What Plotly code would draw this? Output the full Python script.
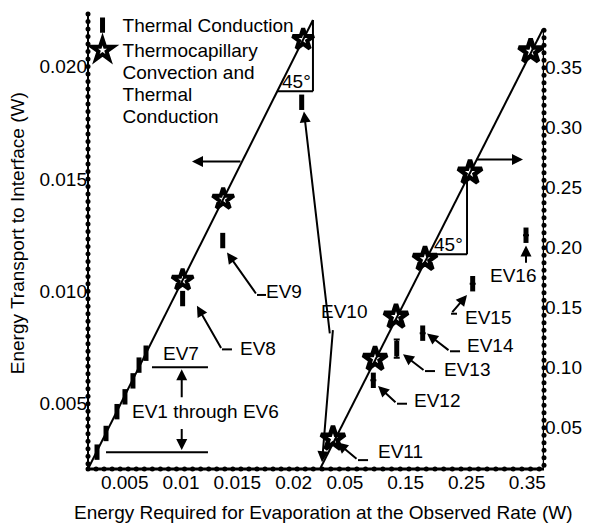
import numpy as np
import plotly.graph_objects as go

FONT = "Liberation Sans, Arial, Helvetica, sans-serif"

# ---- Left panel: EV1-EV10 (small evaporation rates) ----
tc_left_x = [0.0029, 0.0037, 0.00467, 0.00538, 0.00609, 0.00663, 0.00725, 0.0105, 0.01406, 0.02107]
tc_left_y = [0.00285, 0.00368, 0.00465, 0.00531, 0.00602, 0.00672, 0.00725, 0.00968, 0.01226, 0.01841]
tcc_left_x = [0.0105, 0.0141, 0.0212]
tcc_left_y = [0.0105, 0.0141, 0.0212]
eq_left = [0.0021, 0.02207]

# ---- Right panel: EV11-EV16 ----
tc_right_x = [0.1034, 0.1419, 0.1846, 0.2668, 0.3545]
tc_right_y = [0.0896, 0.116, 0.1289, 0.1701, 0.2105]
tc_right_err = [0.0, 0.0076, 0.0, 0.0, 0.0]
tcc_right_x = [0.037, 0.1062, 0.1407, 0.1884, 0.2624, 0.3622]
tcc_right_y = [0.041, 0.1074, 0.1426, 0.1907, 0.2627, 0.3638]
eq_right = [0.0157, 0.382]

# ---- Axis ticks ----
left_x_ticks = [0.005, 0.01, 0.015, 0.02]
left_x_labels = ["0.005", "0.01", "0.015", "0.02"]
left_y_ticks = [0.005, 0.010, 0.015, 0.020]
left_y_labels = ["0.005", "0.010", "0.015", "0.020"]
right_x_ticks = [0.05, 0.15, 0.25, 0.35]
right_x_labels = ["0.05", "0.15", "0.25", "0.35"]
right_y_ticks = [0.05, 0.10, 0.15, 0.20, 0.25, 0.30, 0.35]
right_y_labels = ["0.05", "0.10", "0.15", "0.20", "0.25", "0.30", "0.35"]

LX = [0.0021, 0.02234]
LY = [0.0021, 0.02238]
RX = [0.0091, 0.3841]
RY = [0.0157, 0.3957]

fig = go.Figure()

# 45 degree reference lines
fig.add_trace(go.Scatter(x=eq_left, y=eq_left, mode="lines", line=dict(color="black", width=2),
                         showlegend=False, hoverinfo="skip", xaxis="x", yaxis="y"))
fig.add_trace(go.Scatter(x=eq_right, y=eq_right, mode="lines", line=dict(color="black", width=2),
                         showlegend=False, hoverinfo="skip", xaxis="x2", yaxis="y2"))

# dotted axes (minor tick dots)
dot = dict(color="black", size=5, symbol="circle")
ly_dots = [v for v in np.arange(0, LY[1], 0.005 / 15) if v >= LY[0]]
lx_dots = [v for v in np.arange(LX[0], LX[1], 0.005 / 7)]
ry_dots = [v for v in np.arange(0, 0.383, 0.05 / 8) if v >= RY[0]]
rx_dots = [v for v in np.arange(RX[0] + 0.01, RX[1], 0.1 / 7)]
fig.add_trace(go.Scatter(x=[LX[0]] * len(ly_dots), y=ly_dots, mode="markers", marker=dot,
                         cliponaxis=False, showlegend=False, hoverinfo="skip", xaxis="x", yaxis="y"))
fig.add_trace(go.Scatter(x=lx_dots, y=[LY[0]] * len(lx_dots), mode="markers", marker=dot,
                         cliponaxis=False, showlegend=False, hoverinfo="skip", xaxis="x", yaxis="y"))
fig.add_trace(go.Scatter(x=[RX[1]] * len(ry_dots), y=ry_dots, mode="markers", marker=dot,
                         cliponaxis=False, showlegend=False, hoverinfo="skip", xaxis="x2", yaxis="y2"))
fig.add_trace(go.Scatter(x=rx_dots, y=[RY[0]] * len(rx_dots), mode="markers", marker=dot,
                         cliponaxis=False, showlegend=False, hoverinfo="skip", xaxis="x2", yaxis="y2"))

bar_marker = dict(symbol="line-ns", size=11, color="black", line=dict(color="black", width=5))
star_marker = dict(symbol="star-open", size=16, color="black", line=dict(color="black", width=4))

def line_name(*lines):
    return "<br>".join('<span style="font-size:19px">%s</span>' % s for s in lines)

fig.add_trace(go.Scatter(x=tc_left_x, y=tc_left_y, mode="markers", marker=bar_marker,
                         name=line_name("Thermal Conduction"), legendgroup="tc",
                         cliponaxis=False, xaxis="x", yaxis="y"))
fig.add_trace(go.Scatter(x=tcc_left_x, y=tcc_left_y, mode="markers", marker=star_marker,
                         name=line_name("Thermocapillary", "Convection and", "Thermal", "Conduction"),
                         legendgroup="tcc", cliponaxis=False, xaxis="x", yaxis="y"))
fig.add_trace(go.Scatter(x=tc_right_x, y=tc_right_y, mode="markers", marker=bar_marker,
                         error_y=dict(type="data", array=tc_right_err, color="black", width=3, thickness=2),
                         showlegend=False, legendgroup="tc", cliponaxis=False, xaxis="x2", yaxis="y2"))
fig.add_trace(go.Scatter(x=tcc_right_x, y=tcc_right_y, mode="markers",
                         marker=dict(symbol="star-open", size=18, color="black",
                                     line=dict(color="black", width=4.5)),
                         showlegend=False, legendgroup="tcc", cliponaxis=False, xaxis="x2", yaxis="y2"))

shapes = []

def seg(ax, x0, y0, x1, y1, w=2):
    xr, yr = ("x", "y") if ax == "L" else ("x2", "y2")
    shapes.append(dict(type="line", xref=xr, yref=yr, x0=x0, y0=y0, x1=x1, y1=y1,
                       line=dict(color="black", width=w)))

def arrow(ax, x, y, tx, ty):
    xr, yr = ("x", "y") if ax == "L" else ("x2", "y2")
    fig.add_annotation(x=x, y=y, ax=tx, ay=ty, xref=xr, yref=yr, axref=xr, ayref=yr, text="",
                       showarrow=True, arrowhead=2, arrowsize=1.1, arrowwidth=2,
                       arrowcolor="black", standoff=0)

def label(ax, x, y, text, size=19):
    xr, yr = ("x", "y") if ax == "L" else ("x2", "y2")
    fig.add_annotation(x=x, y=y, xref=xr, yref=yr, text=text, showarrow=False,
                       xanchor="center", yanchor="middle",
                       font=dict(family=FONT, size=size, color="black"))

# axis lines
shapes.append(dict(type="line", xref="x domain", yref="y domain", x0=0, x1=0, y0=0, y1=1,
                   line=dict(color="black", width=2)))
shapes.append(dict(type="line", xref="paper", yref="paper", x0=0, x1=1, y0=0, y1=0,
                   line=dict(color="black", width=3)))
seg("R", RX[1], RY[0], RX[1], eq_right[1], 2.5)

# 45 degree triangles
seg("L", 0.02207, 0.0189, 0.02207, 0.02207)
seg("L", 0.0189, 0.0189, 0.02207, 0.0189)
label("L", 0.02065, 0.01934, "45°")
seg("R", 0.1946, 0.1946, 0.2575, 0.1946)
seg("R", 0.2575, 0.1946, 0.2575, 0.2575)
label("R", 0.2262, 0.2028, "45°")

# axis-direction arrows
arrow("L", 0.01133, 0.01578, 0.01577, 0.01578)
arrow("R", 0.3496, 0.2737, 0.2706, 0.2737)

# EV1 through EV6 bracket
seg("L", 0.00778, 0.00663, 0.01275, 0.00663)
seg("L", 0.0037, 0.00285, 0.01275, 0.00285)
arrow("L", 0.01042, 0.00654, 0.01042, 0.00522)
arrow("L", 0.01042, 0.00294, 0.01042, 0.00395)
label("L", 0.01257, 0.00465, "EV1 through EV6")
label("L", 0.01035, 0.00725, "EV7")

# EV8, EV9
arrow("L", 0.01177, 0.00936, 0.01399, 0.00742)
seg("L", 0.01399, 0.00742, 0.01488, 0.00742)
label("L", 0.01719, 0.00747, "EV8")
arrow("L", 0.01444, 0.01173, 0.0171, 0.00984)
seg("L", 0.0171, 0.00984, 0.0179, 0.00984)
label("L", 0.0195, 0.00998, "EV9")

# EV10 (points into both panels)
label("R", 0.0552, 0.1467, "EV10")
arrow("L", 0.02127, 0.0180, 0.02358, 0.00806)
arrow("R", 0.019, 0.0214, 0.0371, 0.1327)

# EV11 - EV16
arrow("R", 0.0437, 0.0379, 0.0782, 0.0231)
seg("R", 0.0782, 0.0231, 0.0947, 0.0231)
label("R", 0.1473, 0.0305, "EV11")
arrow("R", 0.1111, 0.0849, 0.1423, 0.0701)
seg("R", 0.1423, 0.0701, 0.1588, 0.0701)
label("R", 0.2081, 0.0725, "EV12")
arrow("R", 0.1522, 0.1113, 0.1884, 0.0973)
seg("R", 0.1884, 0.0973, 0.2048, 0.0973)
label("R", 0.2575, 0.0989, "EV13")
arrow("R", 0.1917, 0.1286, 0.2295, 0.1138)
seg("R", 0.2295, 0.1138, 0.246, 0.1138)
label("R", 0.2953, 0.1187, "EV14")
arrow("R", 0.2575, 0.1608, 0.2312, 0.1451)
seg("R", 0.2312, 0.1451, 0.241, 0.1451)
label("R", 0.292, 0.1418, "EV15")
arrow("R", 0.3545, 0.202, 0.3545, 0.1863)
label("R", 0.3331, 0.1772, "EV16")

# axis titles
fig.add_annotation(x=0.5164, y=-0.0954, xref="paper", yref="paper", showarrow=False,
                   xanchor="center", yanchor="middle",
                   text="Energy Required for Evaporation at the Observed Rate (W)",
                   font=dict(family=FONT, size=19, color="black"))
fig.add_annotation(x=-0.1546, y=0.516, xref="paper", yref="paper", showarrow=False, textangle=-90,
                   xanchor="center", yanchor="middle",
                   text="Energy Transport to Interface (W)",
                   font=dict(family=FONT, size=19, color="black"))

axis_common = dict(showgrid=False, zeroline=False, showline=False, ticks="",
                   tickfont=dict(family=FONT, size=19, color="black"))

fig.update_layout(
    width=589, height=527,
    margin=dict(l=88, r=45, t=8, b=58),
    paper_bgcolor="white", plot_bgcolor="white",
    font=dict(family=FONT, size=17, color="black"),
    shapes=shapes,
    showlegend=True,
    legend=dict(x=-0.012, y=1.012, xanchor="left", yanchor="top", bgcolor="rgba(0,0,0,0)",
                font=dict(family=FONT, size=17, color="black"), valign="top",
                itemsizing="trace", tracegroupgap=0),
    xaxis=dict(axis_common, domain=[0, 0.5], range=LX, tickvals=left_x_ticks,
               ticktext=left_x_labels, anchor="y", ticklabelshift=4),
    yaxis=dict(axis_common, domain=[0, 1], range=LY, tickvals=left_y_ticks,
               ticktext=left_y_labels, anchor="x"),
    xaxis2=dict(axis_common, domain=[0.5, 1], range=RX, tickvals=right_x_ticks,
                ticktext=right_x_labels, anchor="y2", ticklabelshift=4),
    yaxis2=dict(axis_common, domain=[0, 1], range=RY, tickvals=right_y_ticks,
                ticktext=right_y_labels, anchor="x2", side="right"),
)

fig.write_html("out.html")
